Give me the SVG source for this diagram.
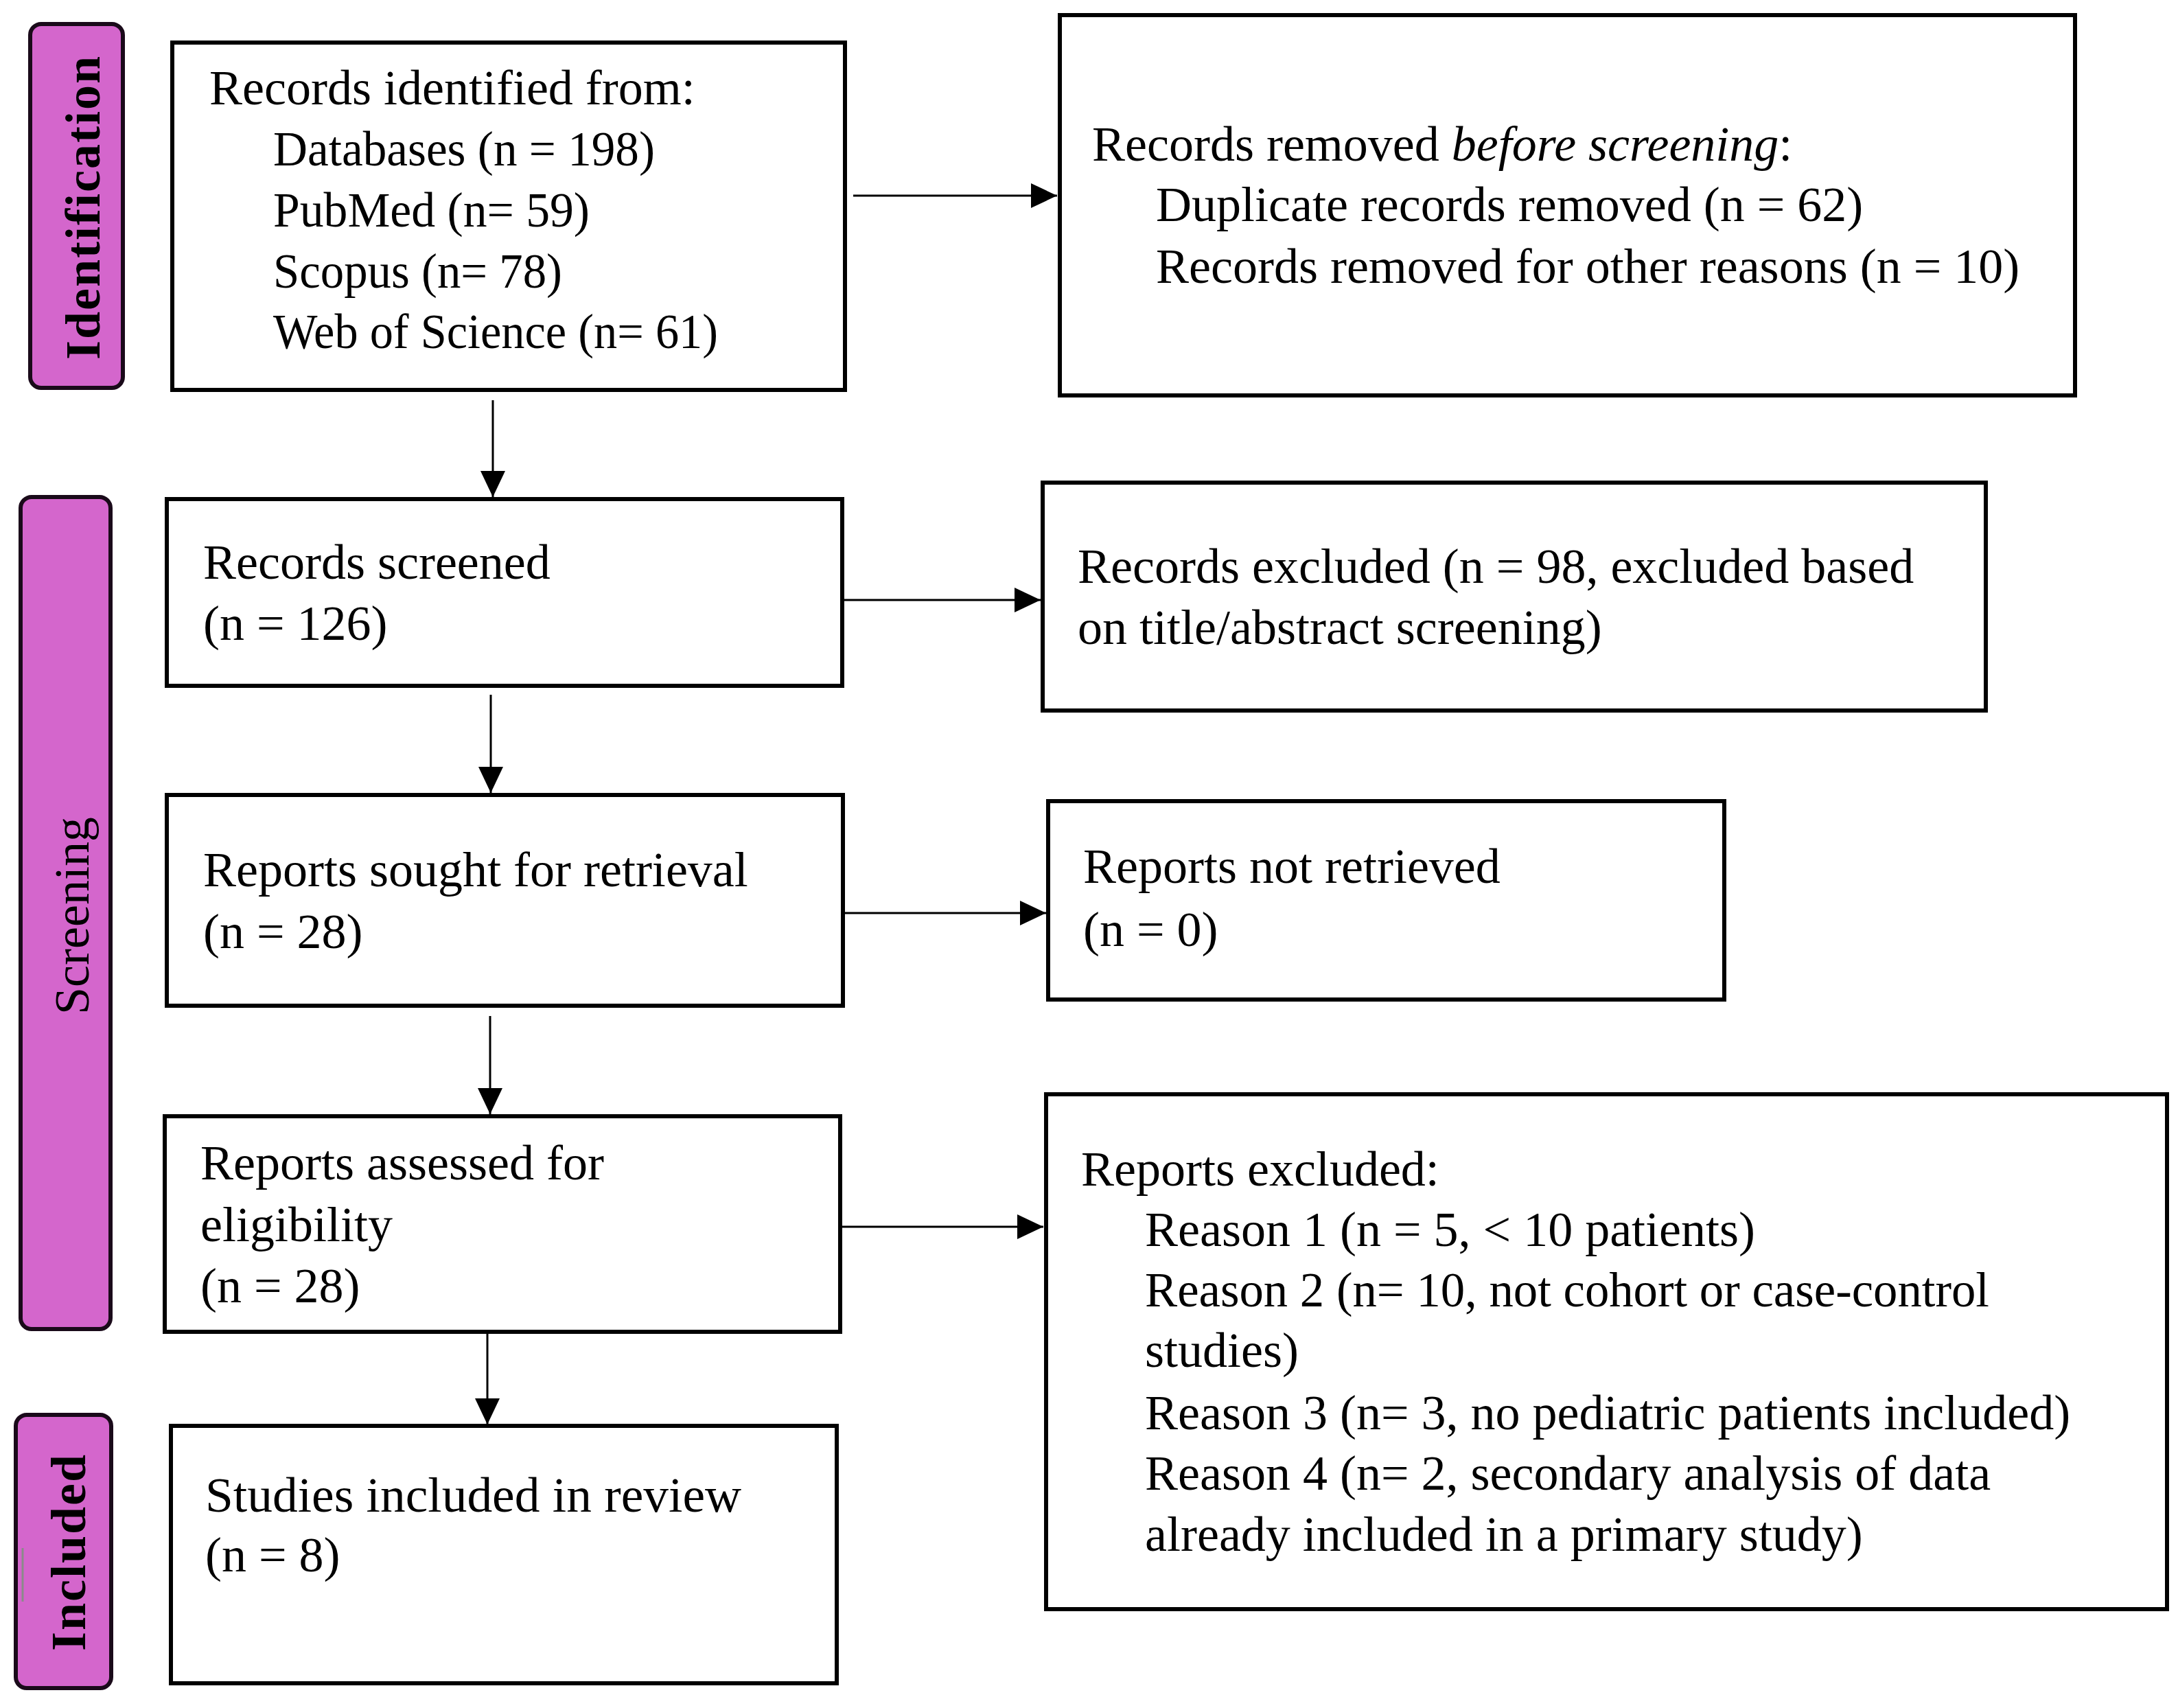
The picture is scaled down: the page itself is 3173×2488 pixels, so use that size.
<svg xmlns="http://www.w3.org/2000/svg" width="3173" height="2488" viewBox="0 0 3173 2488">
<style>
  .box { fill: #ffffff; stroke: #000000; stroke-width: 6; }
  .pill { fill: #D466CC; stroke: #1a0a1a; stroke-width: 6; }
  .t { font-family: "Liberation Serif", "Times New Roman", serif; font-size: 72px; fill: #000000; }
  .lbl { font-family: "Liberation Serif", "Times New Roman", serif; font-size: 72px; fill: #000000; text-anchor: middle; }
  .bold { font-weight: bold; letter-spacing: 2px; }
  .conn { stroke: #000000; stroke-width: 3; fill: none; marker-end: url(#arrow); }
</style>
<defs>
  <marker id="arrow" markerUnits="userSpaceOnUse" markerWidth="38" markerHeight="36" refX="38" refY="18" orient="auto">
    <path d="M0,0 L38,18 L0,36 Z" fill="#000000"/>
  </marker>
</defs>
<rect width="3173" height="2488" fill="#ffffff"/>

<g id="label-identification">
  <rect class="pill" x="44" y="35" width="135" height="530" rx="16" ry="16"/>
  <text class="lbl bold" transform="translate(145,302) rotate(-90)">Identification</text>
</g>
<g id="label-screening">
  <rect class="pill" x="30" y="724" width="131" height="1212" rx="16" ry="16"/>
  <text class="lbl" transform="translate(129,1334) rotate(-90)">Screening</text>
</g>
<g id="label-included">
  <rect class="pill" x="23" y="2061" width="139" height="398" rx="16" ry="16"/>
  <line x1="33" y1="2255" x2="33" y2="2333" stroke="#8a8a8a" stroke-width="3"/>
  <text class="lbl bold" transform="translate(124,2261) rotate(-90)">Included</text>
</g>

<g id="connectors">
  <line class="conn" x1="1243" y1="285" x2="1540" y2="285"/>
  <line class="conn" x1="718" y1="583" x2="718" y2="724"/>
  <line class="conn" x1="1228" y1="874" x2="1516" y2="874"/>
  <line class="conn" x1="715" y1="1012" x2="715" y2="1155"/>
  <line class="conn" x1="1228" y1="1330" x2="1524" y2="1330"/>
  <line class="conn" x1="714" y1="1480" x2="714" y2="1623"/>
  <line class="conn" x1="1224" y1="1787" x2="1520" y2="1787"/>
  <line class="conn" x1="710" y1="1942" x2="710" y2="2075"/>
</g>

<g id="node-identified">
  <rect class="box" x="251" y="62" width="980" height="506"/>
  <text class="t" x="305" y="152">Records identified from:</text>
  <text class="t" x="398" y="241" textLength="556" lengthAdjust="spacingAndGlyphs">Databases (n = 198)</text>
  <text class="t" x="398" y="330" textLength="461" lengthAdjust="spacingAndGlyphs">PubMed (n= 59)</text>
  <text class="t" x="398" y="419" textLength="421" lengthAdjust="spacingAndGlyphs">Scopus (n= 78)</text>
  <text class="t" x="398" y="507" textLength="648" lengthAdjust="spacingAndGlyphs">Web of Science (n= 61)</text>
</g>

<g id="node-removed">
  <rect class="box" x="1544" y="22" width="1479" height="554"/>
  <text class="t" x="1591" y="234">Records removed <tspan font-style="italic">before screening</tspan>:</text>
  <text class="t" x="1684" y="322">Duplicate records removed (n = 62)</text>
  <text class="t" x="1684" y="412">Records removed for other reasons (n = 10)</text>
</g>

<g id="node-screened">
  <rect class="box" x="243" y="727" width="984" height="272"/>
  <text class="t" x="296" y="843">Records screened</text>
  <text class="t" x="296" y="932">(n = 126)</text>
</g>

<g id="node-excluded">
  <rect class="box" x="1519" y="703" width="1374" height="332"/>
  <text class="t" x="1570" y="849">Records excluded (n = 98, excluded based</text>
  <text class="t" x="1570" y="938">on title/abstract screening)</text>
</g>

<g id="node-sought">
  <rect class="box" x="243" y="1158" width="985" height="307"/>
  <text class="t" x="296" y="1291">Reports sought for retrieval</text>
  <text class="t" x="296" y="1381">(n = 28)</text>
</g>

<g id="node-not-retrieved">
  <rect class="box" x="1527" y="1167" width="985" height="289"/>
  <text class="t" x="1578" y="1286">Reports not retrieved</text>
  <text class="t" x="1578" y="1378">(n = 0)</text>
</g>

<g id="node-assessed">
  <rect class="box" x="240" y="1626" width="984" height="314"/>
  <text class="t" x="292" y="1718">Reports assessed for</text>
  <text class="t" x="292" y="1808">eligibility</text>
  <text class="t" x="292" y="1897">(n = 28)</text>
</g>

<g id="node-reports-excluded">
  <rect class="box" x="1524" y="1594" width="1633" height="750"/>
  <text class="t" x="1575" y="1727">Reports excluded:</text>
  <text class="t" x="1668" y="1815">Reason 1 (n = 5, &lt; 10 patients)</text>
  <text class="t" x="1668" y="1903" textLength="1230" lengthAdjust="spacingAndGlyphs">Reason 2 (n= 10, not cohort or case-control</text>
  <text class="t" x="1668" y="1991">studies)</text>
  <text class="t" x="1668" y="2082">Reason 3 (n= 3, no pediatric patients included)</text>
  <text class="t" x="1668" y="2170">Reason 4 (n= 2, secondary analysis of data</text>
  <text class="t" x="1668" y="2259">already included in a primary study)</text>
</g>

<g id="node-included">
  <rect class="box" x="249" y="2077" width="970" height="375"/>
  <text class="t" x="299" y="2202" textLength="781" lengthAdjust="spacingAndGlyphs">Studies included in review</text>
  <text class="t" x="299" y="2289">(n = 8)</text>
</g>
</svg>
